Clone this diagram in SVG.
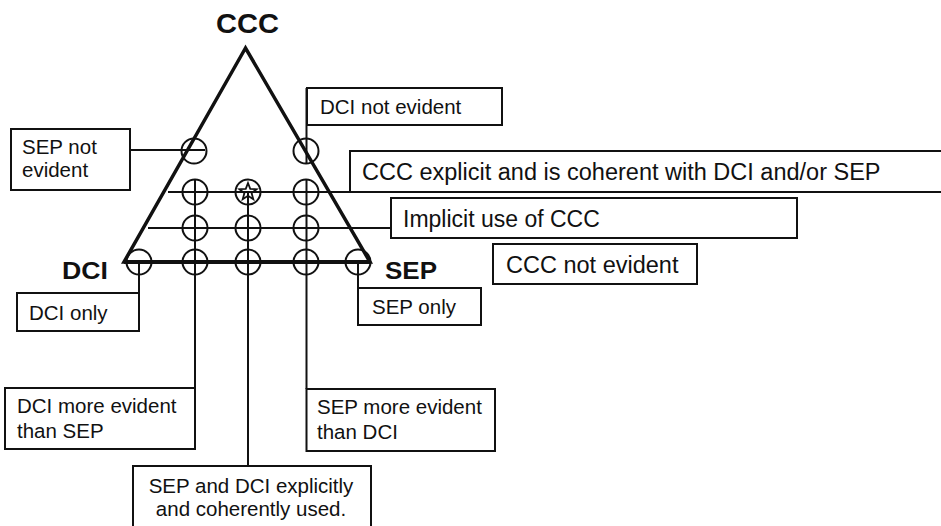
<svg xmlns="http://www.w3.org/2000/svg" width="941" height="526" viewBox="0 0 941 526">
<style>
  .bg { fill: #ffffff; }
  .box { fill: #ffffff; stroke: #111; stroke-width: 2; }
  .ln { stroke: #111; stroke-width: 2; fill: none; }
  .tri { stroke: #111; stroke-width: 3.5; fill: none; stroke-linejoin: miter; }
  .base { stroke: #111; stroke-width: 4; }
  .c { fill: none; stroke: #111; stroke-width: 2; }
  .t { font-family: "Liberation Sans", Arial, sans-serif; font-size: 20.5px; fill: #111; }
  .tb { font-family: "Liberation Sans", Arial, sans-serif; font-size: 23.5px; fill: #111; }
  .h { font-family: "Liberation Sans", Arial, sans-serif; font-weight: bold; fill: #111; }
</style>
<rect class="bg" x="0" y="0" width="941" height="526"/>

<g id="connectors">
  <line class="ln" x1="130" y1="150" x2="205" y2="150"/>
  <line class="ln" x1="168" y1="192" x2="941" y2="192"/>
  <line class="ln" x1="148" y1="228" x2="391" y2="228"/>
  <line class="ln" x1="139" y1="262" x2="139" y2="293"/>
  <line class="ln" x1="195" y1="180" x2="195" y2="388"/>
  <line class="ln" x1="248" y1="192" x2="248" y2="466"/>
  <line class="ln" x1="306.5" y1="88" x2="306.5" y2="163"/>
  <line class="ln" x1="306.5" y1="180" x2="306.5" y2="389"/>
  <line class="ln" x1="358" y1="262" x2="358" y2="288"/>
</g>

<g id="triangle">
  <polygon class="tri" points="245.5,48 124,262 370,262"/>
  <line class="base" x1="124" y1="262" x2="370" y2="262"/>
</g>

<g id="circles">
  <circle class="c" cx="194" cy="151" r="12.5"/>
  <circle class="c" cx="306" cy="151" r="12.5"/>
  <circle class="c" cx="195" cy="192" r="12.5"/>
  <circle class="c" cx="248" cy="192" r="12.5"/>
  <circle class="c" cx="306" cy="192" r="12.5"/>
  <circle class="c" cx="195" cy="228" r="12.5"/>
  <circle class="c" cx="248" cy="228" r="12.5"/>
  <circle class="c" cx="306" cy="228" r="12.5"/>
  <circle class="c" cx="139" cy="262" r="12.5"/>
  <circle class="c" cx="195" cy="262" r="12.5"/>
  <circle class="c" cx="248" cy="262" r="12.5"/>
  <circle class="c" cx="306" cy="262" r="12.5"/>
  <circle class="c" cx="358" cy="262" r="12.5"/>
  <polygon fill="none" stroke="#111" stroke-width="1.8" stroke-linejoin="miter" points="248,183 250.23,188.93 256.56,189.22 251.61,193.17 253.29,199.28 248,195.8 242.71,199.28 244.39,193.17 239.44,189.22 245.77,188.93"/>
</g>

<g id="label-ccc"><text class="h" x="247.5" y="33" font-size="27" text-anchor="middle" textLength="63" lengthAdjust="spacingAndGlyphs">CCC</text></g>
<g id="label-dci"><text class="h" x="62" y="279" font-size="24" textLength="46" lengthAdjust="spacingAndGlyphs">DCI</text></g>
<g id="label-sep"><text class="h" x="385" y="279" font-size="24" textLength="52" lengthAdjust="spacingAndGlyphs">SEP</text></g>

<g id="sep-not-evident">
  <rect class="box" x="11" y="129" width="119" height="61"/>
  <text class="t" x="22" y="154">SEP not</text>
  <text class="t" x="22" y="177">evident</text>
</g>
<g id="dci-not-evident">
  <rect class="box" x="307" y="88" width="195" height="37"/>
  <text class="t" x="320" y="113.5">DCI not evident</text>
</g>
<g id="ccc-explicit">
  <path class="ln" d="M941,151 H350 V192"/>
  <text class="tb" x="362" y="179.5">CCC explicit and is coherent with DCI and/or SEP</text>
</g>
<g id="implicit">
  <rect class="box" x="391" y="198" width="406" height="40"/>
  <text class="tb" x="403" y="226.5" style="font-size:23px">Implicit use of CCC</text>
</g>
<g id="ccc-not-evident">
  <rect class="box" x="493" y="244" width="204" height="40"/>
  <text class="tb" x="506" y="272.5">CCC not evident</text>
</g>
<g id="dci-only">
  <rect class="box" x="17" y="293" width="122" height="38"/>
  <text class="t" x="29" y="319.5">DCI only</text>
</g>
<g id="sep-only">
  <rect class="box" x="358" y="288" width="123" height="37"/>
  <text class="t" x="372" y="314">SEP only</text>
</g>
<g id="dci-more">
  <rect class="box" x="5" y="388" width="190" height="61"/>
  <text class="t" x="17" y="413">DCI more evident</text>
  <text class="t" x="17" y="438">than SEP</text>
</g>
<g id="sep-more">
  <rect class="box" x="306.5" y="389" width="188.5" height="62"/>
  <text class="t" x="317" y="414">SEP more evident</text>
  <text class="t" x="317" y="439">than DCI</text>
</g>
<g id="sep-and-dci">
  <rect class="box" x="133" y="466" width="238" height="64"/>
  <text class="t" x="251" y="493" text-anchor="middle">SEP and DCI explicitly</text>
  <text class="t" x="251" y="516" text-anchor="middle">and coherently used.</text>
</g>
</svg>
